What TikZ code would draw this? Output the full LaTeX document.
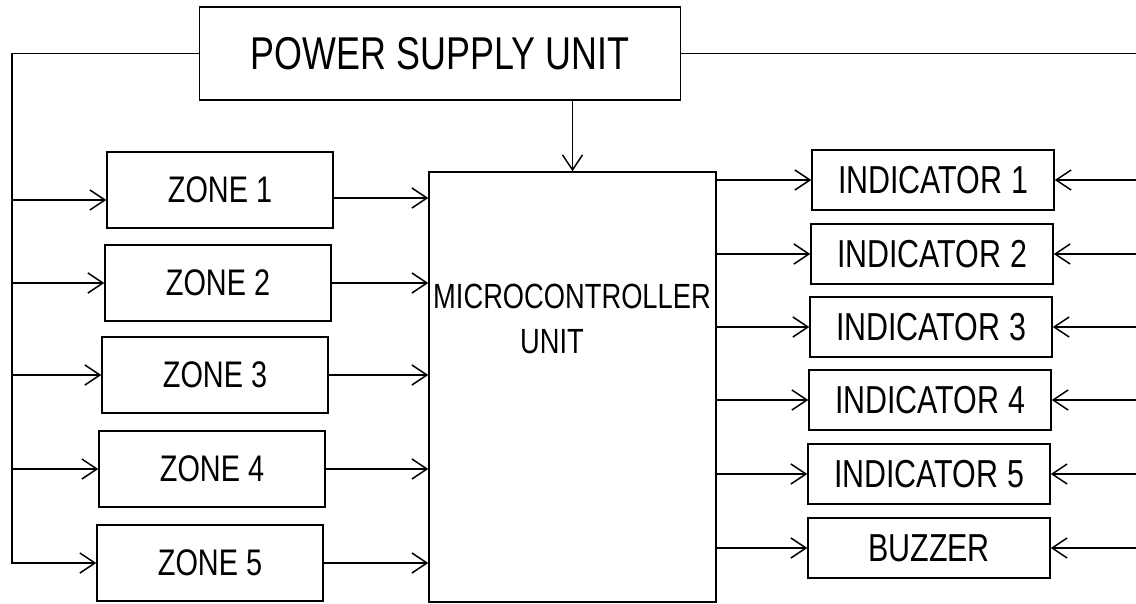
\documentclass[tikz,border=0pt]{standalone}
\usepackage{fontspec}
\setmainfont{Liberation Sans}[FakeStretch=0.78]
\usetikzlibrary{arrows.meta,calc}
\begin{document}
\begin{tikzpicture}[x=1pt,y=-1pt,
  blk/.style={draw,line width=1.5pt,inner sep=0pt},
  zonebox/.style={blk,minimum width=226pt,minimum height=76pt,font=\fontsize{37}{44}\selectfont},
  indbox/.style={blk,minimum width=242pt,minimum height=60pt,font=\fontsize{39}{46}\selectfont},
  wire/.style={line width=1.5pt},
  arr/.style={wire,-{Straight Barb[length=15pt,width=20pt,line width=1.5pt]}}]
\path[use as bounding box] (0,0) rectangle (1136,604);

\node[blk,minimum width=481pt,minimum height=93pt,font=\fontsize{46}{54}\selectfont] (psu) at (440,53.5) {POWER SUPPLY UNIT};

\node[zonebox] (z1) at (220,190) {ZONE 1};
\node[zonebox] (z2) at (218,283) {ZONE 2};
\node[zonebox] (z3) at (215,375) {ZONE 3};
\node[zonebox] (z4) at (212,469) {ZONE 4};
\node[zonebox] (z5) at (210,563) {ZONE 5};

\node[blk,minimum width=287pt,minimum height=430pt] (mcu) at (572.5,387) {};
\node[align=center,inner sep=0pt,font=\fontsize{35}{45}\selectfont] (mcut) at (572,319) {MICROCONTROLLER\\UNIT\hspace*{40pt}};

\node[indbox] (i1) at (933,180) {INDICATOR 1};
\node[indbox] (i2) at (932,254) {INDICATOR 2};
\node[indbox] (i3) at (931,327) {INDICATOR 3};
\node[indbox] (i4) at (930,400) {INDICATOR 4};
\node[indbox] (i5) at (929,474) {INDICATOR 5};
\node[indbox] (bz) at (929,548) {BUZZER};

\coordinate (lb) at (12,563);
\coordinate (rt) at (1136,53.5);
\coordinate (z1in) at ($(z1.west)+(0,10)$);
\coordinate (z1out) at ($(z1.east)+(0,8)$);

% left supply bus
\draw[arr] (psu.west) -| (lb) -- (z5.west);
\draw[arr] (lb |- z1in) -- (z1in);
\foreach \z in {z2,z3,z4}
  \draw[arr] (lb |- \z.west) -- (\z.west);
% right supply line
\draw[wire] (psu.east) -- (rt);
\foreach \i in {i1,i2,i3,i4,i5,bz}
  \draw[arr] (rt |- \i.east) -- (\i.east);
% psu to mcu
\draw[arr] (psu.south -| mcu.north) -- (mcu.north);
% zones to mcu
\draw[arr] (z1out) -- (mcu.west |- z1out);
\foreach \z in {z2,z3,z4,z5}
  \draw[arr] (\z.east) -- (mcu.west |- \z.east);
% mcu to outputs
\foreach \i in {i1,i2,i3,i4,i5,bz}
  \draw[arr] (mcu.east |- \i.west) -- (\i.west);
\end{tikzpicture}
\end{document}
